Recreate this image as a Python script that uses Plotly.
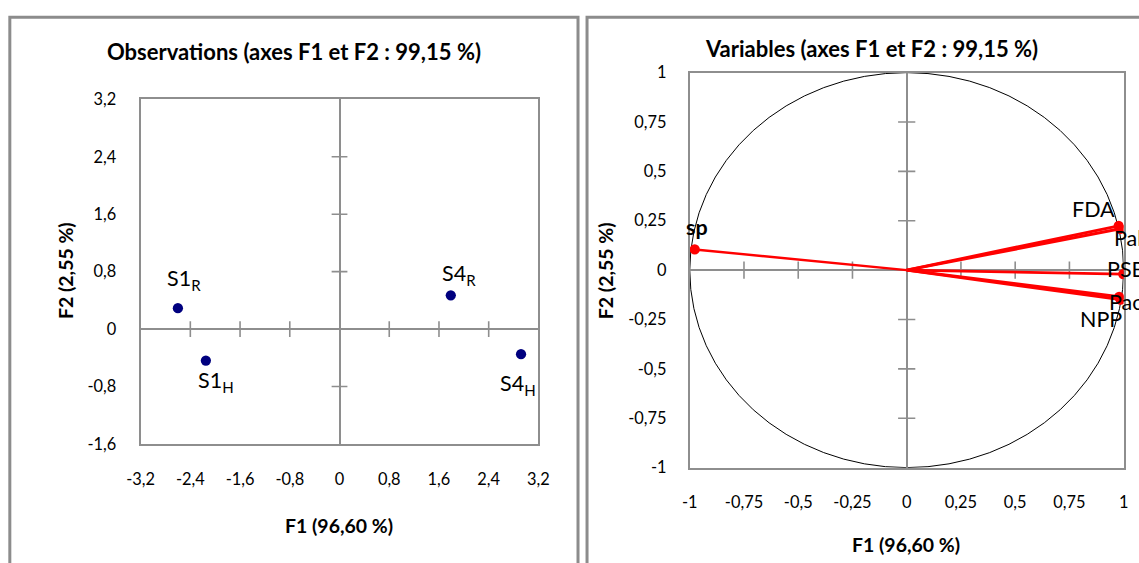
import plotly.graph_objects as go

W, H = 1139, 563

# ---------------- data ----------------
# Observations (left chart)
obs_labels = ["S1<sub>R</sub>", "S1<sub>H</sub>", "S4<sub>R</sub>", "S4<sub>H</sub>"]
obs_f1 = [-2.60, -2.15, 1.79, 2.92]
obs_f2 = [0.29, -0.44, 0.47, -0.35]

# Variables (right chart)
var_labels = ["FDA", "Pal", "PSB", "Pac", "NPP", "sp"]
var_f1 = [0.977, 0.984, 0.998, 0.986, 0.979, -0.977]
var_f2 = [0.224, 0.209, -0.020, -0.149, -0.135, 0.105]

# Axis ticks
obs_xticks = [-3.2, -2.4, -1.6, -0.8, 0, 0.8, 1.6, 2.4, 3.2]
obs_xticktext = ["-3,2", "-2,4", "-1,6", "-0,8", "0", "0,8", "1,6", "2,4", "3,2"]
obs_yticks = [-1.6, -0.8, 0, 0.8, 1.6, 2.4, 3.2]
obs_yticktext = ["-1,6", "-0,8", "0", "0,8", "1,6", "2,4", "3,2"]
var_ticks = [-1, -0.75, -0.5, -0.25, 0, 0.25, 0.5, 0.75, 1]
var_ticktext = ["-1", "-0,75", "-0,5", "-0,25", "0", "0,25", "0,5", "0,75", "1"]

# ---------------- styles ----------------
FONT = "Lato"
GREY = "#8c8c8c"
AXGREY = "#8e8e8e"
NAVY = "#00007f"
RED = "#ff0000"

# the page is photographed slightly shrunk around its centre; compensate
S = 0.976

def cx(X):
    return W / 2 + (X - W / 2) / S

def cy(Y):
    return H / 2 + (Y - H / 2) / S

def px(X):
    return cx(X) / W

def py(Y):
    return 1 - cy(Y) / H

def sz(v):
    return v / S

fig = go.Figure()

# cross tick marks on the zero axes (left)
inner_ox = [t for t in obs_xticks if t not in (min(obs_xticks), max(obs_xticks), 0)]
inner_oy = [t for t in obs_yticks if t not in (min(obs_yticks), max(obs_yticks), 0)]
fig.add_trace(go.Scatter(x=inner_ox, y=[0] * len(inner_ox), mode="markers",
                         marker=dict(symbol="line-ns", size=sz(11), line=dict(color=AXGREY, width=1.6)),
                         xaxis="x", yaxis="y", hoverinfo="skip"))
fig.add_trace(go.Scatter(x=[0] * len(inner_oy), y=inner_oy, mode="markers",
                         marker=dict(symbol="line-ew", size=sz(11), line=dict(color=AXGREY, width=1.6)),
                         xaxis="x", yaxis="y", hoverinfo="skip"))

# observation points
fig.add_trace(go.Scatter(x=obs_f1, y=obs_f2, mode="markers",
                         marker=dict(color=NAVY, size=sz(10)),
                         xaxis="x", yaxis="y", hoverinfo="skip"))

# cross tick marks (right)
inner_v = [t for t in var_ticks if t not in (min(var_ticks), max(var_ticks), 0)]
fig.add_trace(go.Scatter(x=inner_v, y=[0] * len(inner_v), mode="markers",
                         marker=dict(symbol="line-ns", size=sz(12), line=dict(color=AXGREY, width=1.6)),
                         xaxis="x2", yaxis="y2", hoverinfo="skip"))
fig.add_trace(go.Scatter(x=[0] * len(inner_v), y=inner_v, mode="markers",
                         marker=dict(symbol="line-ew", size=sz(12), line=dict(color=AXGREY, width=1.6)),
                         xaxis="x2", yaxis="y2", hoverinfo="skip"))

# variable vectors
line_widths = [3, 3, 2.7, 3, 3, 2.5]
for name, f1, f2, lw in zip(var_labels, var_f1, var_f2, line_widths):
    fig.add_trace(go.Scatter(x=[0, f1], y=[0, f2], mode="lines",
                             line=dict(color=RED, width=lw),
                             xaxis="x2", yaxis="y2", hoverinfo="skip"))
fig.add_trace(go.Scatter(x=var_f1, y=var_f2, mode="markers",
                         marker=dict(color=RED, size=sz(10)),
                         xaxis="x2", yaxis="y2", hoverinfo="skip"))

# ---------------- axes ----------------
common = dict(showgrid=False, zeroline=True, zerolinecolor=AXGREY, zerolinewidth=2,
              showline=True, mirror=True, linecolor=AXGREY, linewidth=2,
              ticks="", tickfont=dict(family=FONT, size=sz(16), color="black"),
              fixedrange=True)

fig.update_layout(
    xaxis=dict(domain=[px(140), px(537)], range=[-3.2, 3.2], anchor="y",
               tickmode="array", tickvals=obs_xticks, ticktext=obs_xticktext,
               ticklabelstandoff=round(sz(19)), **common),
    yaxis=dict(domain=[py(445), py(97)], range=[-1.6, 3.2], anchor="x",
               tickmode="array", tickvals=obs_yticks, ticktext=obs_yticktext,
               ticklabelstandoff=round(sz(19)), **common),
    xaxis2=dict(domain=[px(688), px(1121)], range=[-1, 1], anchor="y2",
                tickmode="array", tickvals=var_ticks, ticktext=var_ticktext,
                ticklabelstandoff=round(sz(19)), **common),
    yaxis2=dict(domain=[py(469), py(70)], range=[-1, 1], anchor="x2",
                tickmode="array", tickvals=var_ticks, ticktext=var_ticktext,
                ticklabelstandoff=round(sz(18)), **common),
)

# ---------------- shapes ----------------
shapes = [
    dict(type="path", xref="paper", yref="paper",
         path="M %f,%f L %f,%f L %f,%f L %f,%f" % (px(9.5), py(590), px(9.5), py(14),
                                                    px(576.5), py(14), px(576.5), py(590)),
         line=dict(color=GREY, width=3), layer="below"),
    dict(type="path", xref="paper", yref="paper",
         path="M %f,%f L %f,%f L %f,%f" % (px(585.5), py(590), px(585.5), py(14), px(1170), py(14)),
         line=dict(color=GREY, width=3), layer="below"),
    dict(type="circle", xref="x2", yref="y2", x0=-1, y0=-1, x1=1, y1=1,
         line=dict(color="black", width=1), layer="below"),
]

# ---------------- annotations ----------------
ann = []
ann.append(dict(text="<b>Observations (axes F1 et F2 : 99,15 %)</b>", x=px(293), y=py(49),
                xref="paper", yref="paper", showarrow=False, xanchor="center", yanchor="middle",
                font=dict(family=FONT, size=sz(21.5), color="black")))
ann.append(dict(text="<b>Variables (axes F1 et F2 : 99,15 %)</b>", x=px(869), y=py(46),
                xref="paper", yref="paper", showarrow=False, xanchor="center", yanchor="middle",
                font=dict(family=FONT, size=sz(21.5), color="black")))
for X, Y, txt in [(338, 527, "F1 (96,60 %)"), (904, 547, "F1 (96,60 %)")]:
    ann.append(dict(text="<b>%s</b>" % txt, x=px(X), y=py(Y), xref="paper", yref="paper",
                    showarrow=False, xanchor="center", yanchor="middle",
                    font=dict(family=FONT, size=sz(19), color="black")))
for X, Y, txt in [(65, 270, "F2 (2,55 %)"), (604, 270, "F2 (2,55 %)")]:
    ann.append(dict(text="<b>%s</b>" % txt, x=px(X), y=py(Y), xref="paper", yref="paper",
                    showarrow=False, xanchor="center", yanchor="middle", textangle=-90,
                    font=dict(family=FONT, size=sz(19), color="black")))

# observation labels (offsets in pixels)
obs_offsets = [(6, 28), (10, -20), (8, 20), (-3, -30)]
for lab, x, y, (dx, dy) in zip(obs_labels, obs_f1, obs_f2, obs_offsets):
    ann.append(dict(text=lab, x=x, y=y, xref="x", yref="y", showarrow=False,
                    xanchor="center", yanchor="middle", xshift=sz(dx), yshift=sz(dy),
                    font=dict(family=FONT, size=sz(21), color="black")))

# variable labels: (xanchor, xshift, yshift, bold)
var_label_pos = [("right", -2, 16, False), ("left", -8, -9, False), ("left", -18, 5, False),
                 ("left", -13, -2, False), ("right", 5, -22, False), ("center", 2, 22, True)]
for lab, x, y, (xa, dx, dy, bold) in zip(var_labels, var_f1, var_f2, var_label_pos):
    ann.append(dict(text=("<b>%s</b>" % lab) if bold else lab, x=x, y=y, xref="x2", yref="y2",
                    showarrow=False, xanchor=xa, yanchor="middle", xshift=sz(dx), yshift=sz(dy),
                    font=dict(family=FONT, size=sz(21), color="black")))

fig.update_layout(
    width=W, height=H, autosize=False,
    margin=dict(l=0, r=0, t=0, b=0, pad=0),
    paper_bgcolor="white", plot_bgcolor="white",
    showlegend=False, shapes=shapes, annotations=ann,
    font=dict(family=FONT, color="black"),
)

fig.write_html("out.html", config={"displayModeBar": False, "staticPlot": True})
